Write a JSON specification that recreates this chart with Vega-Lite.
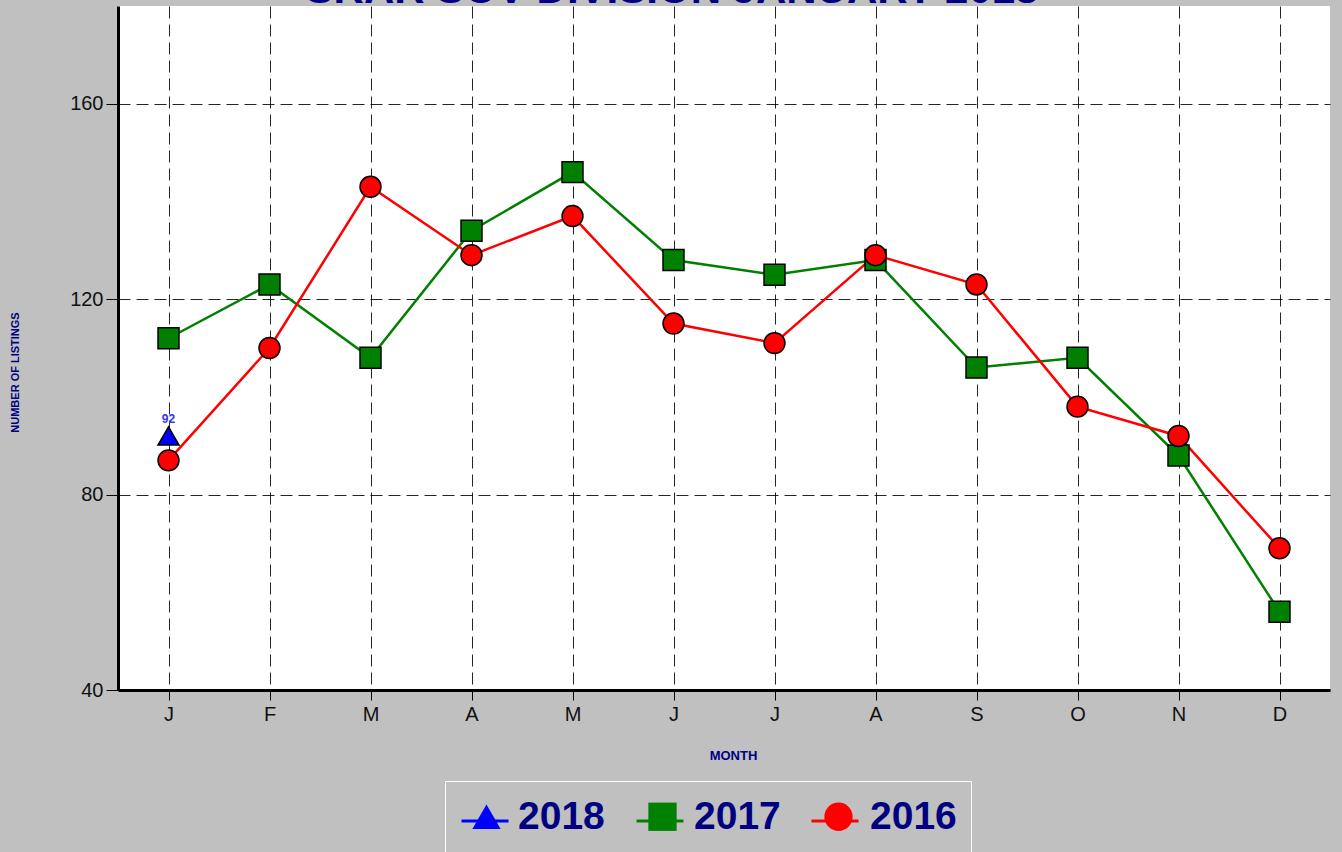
{
  "$schema": "https://vega.github.io/schema/vega-lite/v6.json",
  "width": 1212,
  "height": 684,
  "autosize": {"type": "none"},
  "padding": {"left": 118, "top": 6, "right": 12, "bottom": 162},
  "background": "#c0c0c0",
  "title": {
    "text": "SRAR SOV DIVISION JANUARY 2018",
    "fontSize": 42,
    "font": "Liberation Sans",
    "fontWeight": "bold",
    "color": "#000080",
    "anchor": "middle",
    "baseline": "alphabetic",
    "offset": -39,
    "dx": -52
  },
  "config": {
    "view": {"fill": "white", "stroke": null},
    "axis": {
      "grid": true,
      "gridColor": "#000000",
      "gridOpacity": 0.85,
      "gridWidth": 1,
      "gridDash": [12, 6],
      "domainColor": "#000000",
      "domainWidth": 3,
      "tickColor": "#000000",
      "tickWidth": 1,
      "labelFont": "Liberation Sans",
      "labelColor": "#111111",
      "labelFontSize": 20,
      "titleFont": "Liberation Sans",
      "titleColor": "#000080",
      "titleFontWeight": "bold"
    }
  },
  "data": {
    "values": [
      {"month": "Jan", "year": "2018", "series": "2018 line", "value": 92},
      {"month": "Jan", "year": "2017", "series": "2017 line", "value": 112},
      {"month": "Feb", "year": "2017", "series": "2017 line", "value": 123},
      {"month": "Mar", "year": "2017", "series": "2017 line", "value": 108},
      {"month": "Apr", "year": "2017", "series": "2017 line", "value": 134},
      {"month": "May", "year": "2017", "series": "2017 line", "value": 146},
      {"month": "Jun", "year": "2017", "series": "2017 line", "value": 128},
      {"month": "Jul", "year": "2017", "series": "2017 line", "value": 125},
      {"month": "Aug", "year": "2017", "series": "2017 line", "value": 128},
      {"month": "Sep", "year": "2017", "series": "2017 line", "value": 106},
      {"month": "Oct", "year": "2017", "series": "2017 line", "value": 108},
      {"month": "Nov", "year": "2017", "series": "2017 line", "value": 88},
      {"month": "Dec", "year": "2017", "series": "2017 line", "value": 56},
      {"month": "Jan", "year": "2016", "series": "2016 line", "value": 87},
      {"month": "Feb", "year": "2016", "series": "2016 line", "value": 110},
      {"month": "Mar", "year": "2016", "series": "2016 line", "value": 143},
      {"month": "Apr", "year": "2016", "series": "2016 line", "value": 129},
      {"month": "May", "year": "2016", "series": "2016 line", "value": 137},
      {"month": "Jun", "year": "2016", "series": "2016 line", "value": 115},
      {"month": "Jul", "year": "2016", "series": "2016 line", "value": 111},
      {"month": "Aug", "year": "2016", "series": "2016 line", "value": 129},
      {"month": "Sep", "year": "2016", "series": "2016 line", "value": 123},
      {"month": "Oct", "year": "2016", "series": "2016 line", "value": 98},
      {"month": "Nov", "year": "2016", "series": "2016 line", "value": 92},
      {"month": "Dec", "year": "2016", "series": "2016 line", "value": 69}
    ]
  },
  "encoding": {
    "x": {
      "field": "month",
      "type": "ordinal",
      "sort": ["Jan", "Feb", "Mar", "Apr", "May", "Jun", "Jul", "Aug", "Sep", "Oct", "Nov", "Dec"],
      "scale": {"type": "point", "padding": 0.5},
      "axis": {
        "title": "MONTH",
        "titleFontSize": 13,
        "titleX": 615,
        "titleY": 65,
        "titleBaseline": "middle",
        "labelExpr": "substring(datum.label, 0, 1)",
        "labelAngle": 0,
        "tickSize": 10,
        "labelPadding": 4
      }
    },
    "y": {
      "field": "value",
      "type": "quantitative",
      "scale": {"domain": [40, 180], "nice": false, "zero": false},
      "axis": {
        "title": "NUMBER OF LISTINGS",
        "titleFontSize": 11,
        "titleX": -98,
        "titleY": 366,
        "titleBaseline": "bottom",
        "values": [40, 80, 120, 160],
        "tickSize": 12,
        "labelPadding": 3
      }
    }
  },
  "layer": [
    {
      "mark": {"type": "line", "strokeWidth": 2.5},
      "encoding": {
        "stroke": {
          "field": "series",
          "type": "nominal",
          "sort": ["2018 line", "2017 line", "2016 line"],
          "scale": {"domain": ["2018 line", "2017 line", "2016 line"], "range": ["#0000ff", "#008000", "#ff0000"]},
          "legend": {
            "orient": "none",
            "legendX": 327,
            "legendY": 775,
            "direction": "horizontal",
            "title": null,
            "symbolType": "stroke",
            "symbolSize": 2209,
            "symbolStrokeWidth": 3,
            "labelExpr": "substring(datum.label, 0, 4)",
            "labelFont": "Liberation Sans",
            "labelFontSize": 39,
            "labelFontWeight": "bold",
            "labelColor": "#000080",
            "labelOpacity": 0,
            "labelOffset": 9,
            "columnPadding": 24,
            "padding": 15,
            "strokeColor": "#ffffff",
            "cornerRadius": 0
          }
        }
      }
    },
    {
      "mark": {"type": "point", "filled": true, "stroke": "#000000", "strokeWidth": 1.5, "opacity": 1, "size": 440},
      "encoding": {
        "fill": {
          "field": "year",
          "type": "nominal",
          "sort": ["2018", "2017", "2016"],
          "scale": {"domain": ["2018", "2017", "2016"], "range": ["#0000ff", "#008000", "#ff0000"]},
          "legend": {
            "orient": "none",
            "legendX": 334,
            "legendY": 776,
            "direction": "horizontal",
            "title": null,
            "symbolSize": 800,
            "symbolStrokeColor": "#000000",
            "symbolStrokeWidth": 1.5,
            "labelFont": "Liberation Sans",
            "labelFontSize": 39,
            "labelFontWeight": "bold",
            "labelColor": "#000080",
            "labelOffset": 12,
            "columnPadding": 38,
            "padding": 15
          }
        },
        "shape": {
          "field": "year",
          "type": "nominal",
          "sort": ["2018", "2017", "2016"],
          "scale": {"domain": ["2018", "2017", "2016"], "range": ["triangle-up", "square", "circle"]},
          "legend": {
            "orient": "none",
            "legendX": 334,
            "legendY": 776,
            "direction": "horizontal",
            "title": null,
            "symbolSize": 800,
            "symbolStrokeColor": "#000000",
            "symbolStrokeWidth": 1.5,
            "labelFont": "Liberation Sans",
            "labelFontSize": 39,
            "labelFontWeight": "bold",
            "labelColor": "#000080",
            "labelOffset": 12,
            "columnPadding": 38,
            "padding": 15
          }
        }
      }
    },
    {
      "transform": [{"filter": "datum.year == '2018'"}],
      "mark": {"type": "text", "dy": -17, "font": "Liberation Sans", "fontSize": 12, "fontWeight": "bold", "color": "#3333ff"},
      "encoding": {"text": {"field": "value", "type": "quantitative"}}
    }
  ]
}
